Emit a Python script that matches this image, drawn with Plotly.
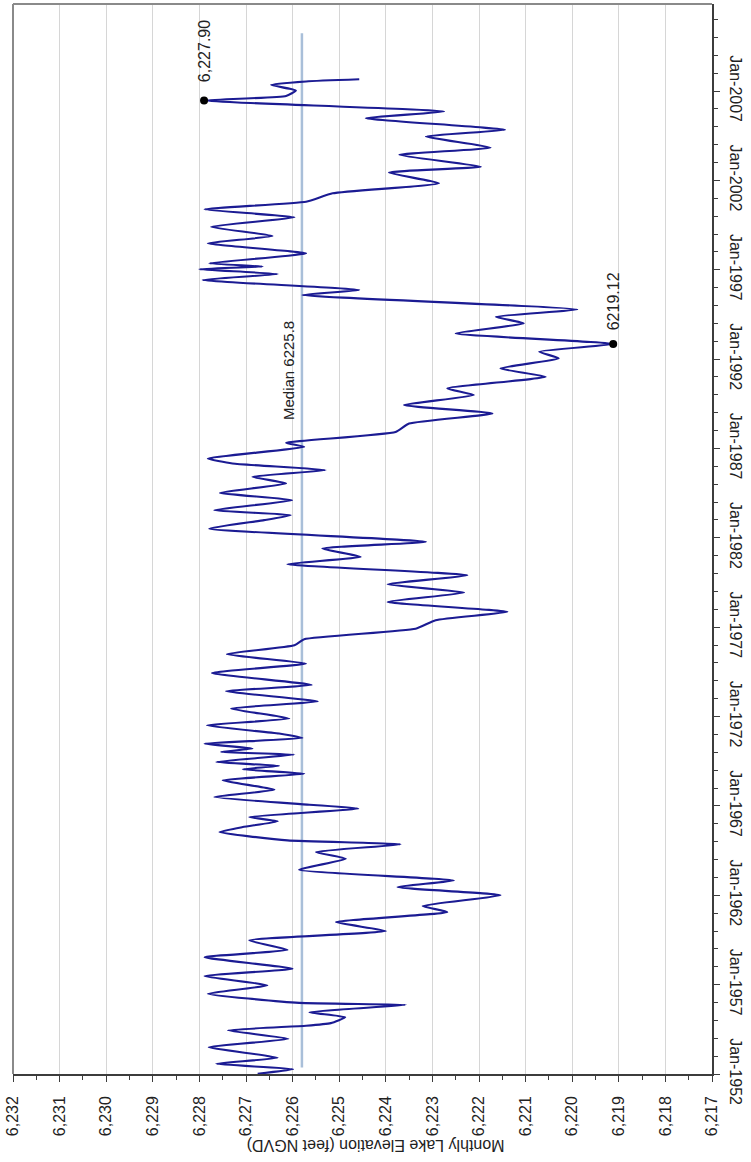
import plotly.graph_objects as go

# Monthly lake elevation record (feet NGVD), turning points of the hydrograph
dates = [
    "1952-01-05", "1952-04-09", "1952-07-27", "1952-11-28", "1953-07-01", "1953-12-20",
    "1954-06-10", "1954-09-13", "1954-11-06", "1955-03-07", "1955-06-17", "1955-11-14",
    "1955-12-24", "1956-06-28", "1956-12-16", "1957-06-25", "1957-11-21", "1958-07-16",
    "1958-12-12", "1959-06-25", "1960-01-01", "1960-07-01", "1961-01-22", "1961-05-26",
    "1962-01-01", "1962-06-17", "1962-10-30", "1963-06-06", "1964-01-16", "1964-06-02",
    "1964-11-06", "1965-01-26", "1965-07-16", "1965-10-26", "1966-02-20", "1966-05-19",
    "1966-11-06", "1967-01-26", "1967-07-01", "1967-11-28", "1968-06-06", "1968-10-19",
    "1969-01-19", "1969-03-29", "1969-06-17", "1969-11-14", "1970-01-08", "1970-03-18",
    "1970-06-25", "1970-10-19", "1971-01-19", "1971-07-05", "1971-11-21", "1972-06-14",
    "1972-11-03", "1973-06-02", "1973-10-08", "1974-06-10", "1974-12-20", "1975-06-28",
    "1975-12-28", "1976-05-01", "1976-12-01", "1977-05-23", "1977-11-10", "1978-06-02",
    "1978-12-08", "1979-05-28", "1979-11-28", "1980-07-12", "1980-12-08", "1981-05-28",
    "1981-10-12", "1982-07-08", "1982-12-28", "1983-04-09", "1983-07-19", "1984-02-10",
    "1984-07-08", "1985-01-16", "1985-06-02", "1985-10-16", "1986-02-28", "1986-06-10",
    "1987-02-03", "1987-04-27", "1987-12-05", "1988-05-26", "1988-12-16", "1989-06-06",
    "1989-12-28", "1990-05-12", "1991-01-05", "1991-06-25", "1992-01-16", "1992-06-02",
    "1992-11-06", "1993-06-10", "1994-01-01", "1994-05-16", "1994-10-12", "1995-08-03",
    "1995-11-14", "1996-06-06", "1996-10-05", "1997-01-12", "1997-03-07", "1997-05-12",
    "1997-12-01", "1998-06-25", "1998-11-21", "1999-05-28", "1999-12-08", "2000-05-19",
    "2000-10-23", "2001-04-12", "2001-11-03", "2002-06-10", "2002-10-08", "2003-06-06",
    "2003-11-03", "2004-06-17", "2004-10-30", "2005-06-25", "2005-11-10", "2006-06-20",
    "2006-09-24", "2007-01-12", "2007-05-08", "2007-07-16", "2007-08-29",
]
elevation = [
    6226.75, 6225.99, 6227.64, 6226.32, 6227.80, 6226.09,
    6227.39, 6225.71, 6225.18, 6224.87, 6225.64, 6223.57,
    6225.86, 6227.82, 6226.54, 6227.89, 6226.00, 6227.89,
    6226.11, 6226.93, 6224.00, 6225.07, 6222.68, 6223.21,
    6221.54, 6223.75, 6222.54, 6225.86, 6224.86, 6225.50,
    6223.68, 6226.11, 6227.57, 6227.07, 6226.32, 6226.93,
    6224.59, 6225.64, 6227.68, 6226.39, 6227.50, 6225.75,
    6227.07, 6226.29, 6227.64, 6225.96, 6227.54, 6226.86,
    6227.89, 6225.79, 6226.29, 6227.84, 6226.07, 6227.32,
    6225.46, 6227.43, 6225.59, 6227.73, 6225.71, 6227.41,
    6225.96, 6225.75, 6223.36, 6222.93, 6221.39, 6223.96,
    6222.32, 6223.96, 6222.25, 6226.11, 6224.54, 6225.36,
    6223.14, 6227.79, 6226.61, 6226.04, 6227.68, 6226.01,
    6227.56, 6226.14, 6226.86, 6225.29, 6227.29, 6227.82,
    6225.75, 6226.14, 6223.79, 6223.50, 6221.71, 6223.61,
    6222.11, 6222.68, 6220.57, 6221.54, 6220.29, 6220.71,
    6219.12, 6222.50, 6221.04, 6221.64, 6219.89, 6225.79,
    6224.57, 6227.93, 6226.32, 6228.00, 6226.64, 6227.79,
    6225.71, 6227.82, 6226.43, 6227.75, 6225.96, 6227.89,
    6225.71, 6225.14, 6222.86, 6223.93, 6221.96, 6223.71,
    6221.75, 6223.14, 6221.44, 6224.43, 6222.75, 6227.90,
    6226.14, 6225.93, 6226.46, 6225.71, 6224.57,
]

# Period median drawn across the record
median_value = 6225.8
median_dates = ["1952-05-15", "2010-03-25"]

# Labelled extremes
high_date, high_value = "2006-06-20", 6227.90
low_date, low_value = "1992-11-06", 6219.12

FONT = "Arial, 'Liberation Sans', sans-serif"
TEXT = "#222222"
AXIS = "#3c3c3c"

fig = go.Figure()

fig.add_trace(go.Scatter(
    x=[median_value, median_value], y=median_dates, mode="lines",
    line=dict(color="#a9bfd9", width=2.5), hoverinfo="skip",
))
fig.add_trace(go.Scatter(
    x=elevation, y=dates, mode="lines",
    line=dict(color="#1b1b93", width=2.1, shape="spline", smoothing=0.45),
))
fig.add_trace(go.Scatter(
    x=[high_value, low_value], y=[high_date, low_date], mode="markers",
    marker=dict(color="black", size=8),
))

ann_font = dict(family=FONT, size=16, color=TEXT)
fig.add_annotation(x=high_value, y="2009-03-28", text=f"{high_value:,.2f}",
                   textangle=-90, showarrow=False, font=ann_font,
                   xanchor="center", yanchor="middle")
fig.add_annotation(x=low_value, y="1995-04-01", text=f"{low_value:.2f}",
                   textangle=-90, showarrow=False, font=ann_font,
                   xanchor="center", yanchor="middle")
fig.add_annotation(x=6226.1, y="1991-05-22", text=f"Median {median_value}",
                   textangle=-90, showarrow=False,
                   font=dict(family=FONT, size=15, color=TEXT),
                   xanchor="center", yanchor="middle")

# Elevation axis title, set below the plot
fig.add_annotation(xref="paper", yref="paper", x=0.519, y=-0.067,
                   text="Monthly Lake Elevation (feet NGVD)", textangle=180,
                   showarrow=False, font=dict(family=FONT, size=16, color=TEXT),
                   xanchor="center", yanchor="middle")

# Frame on the two sides without axes
for x0, y0, x1, y1 in [(0, 0, 0, 1), (0, 1, 1, 1)]:
    fig.add_shape(type="line", xref="paper", yref="paper",
                  x0=x0, y0=y0, x1=x1, y1=y1,
                  line=dict(color="#8a8a8a", width=2))

fig.update_layout(
    width=751, height=1162,
    margin=dict(l=13, r=39, t=4, b=88),
    paper_bgcolor="white", plot_bgcolor="white",
    showlegend=False,
    font=dict(family=FONT, size=16, color=TEXT),
)
fig.update_xaxes(
    range=[6232, 6217], tick0=6217, dtick=1, tickformat=",.0f", tickangle=-90,
    showgrid=True, gridcolor="#d6d6d6", gridwidth=1, zeroline=False,
    showline=True, linecolor=AXIS, linewidth=1.5,
    ticks="outside", ticklen=6, tickcolor=AXIS, tickwidth=1,
    minor=dict(dtick=0.5, tick0=6217, ticks="outside", ticklen=4, tickcolor=AXIS, showgrid=False),
    tickfont=dict(family=FONT, size=16, color=TEXT), ticklabelstandoff=8,
    automargin=False,
)
fig.update_yaxes(
    type="date", range=["1952-01-01", "2011-11-15"], side="right",
    tick0="1952-01-01", dtick="M60", tickformat="%b-%Y", tickangle=90,
    showgrid=False, zeroline=False,
    showline=True, linecolor=AXIS, linewidth=1.5,
    ticks="outside", ticklen=6, tickcolor=AXIS, tickwidth=1,
    minor=dict(dtick="M12", tick0="1952-01-01", ticks="outside", ticklen=4, tickcolor=AXIS, showgrid=False),
    tickfont=dict(family=FONT, size=16, color=TEXT), ticklabelstandoff=4,
    automargin=False,
)

fig.write_html("out.html")
